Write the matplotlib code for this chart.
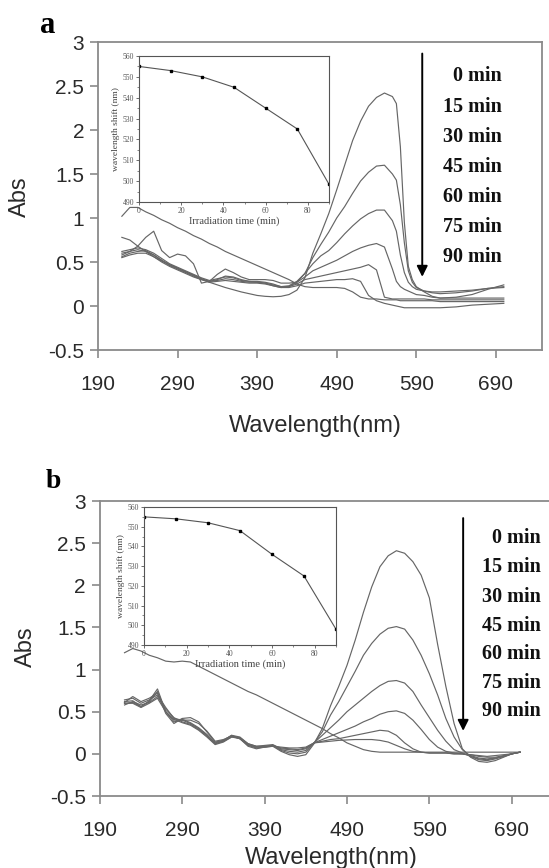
import matplotlib
matplotlib.use("Agg")
import matplotlib.pyplot as plt
import numpy as np

# ---------------- data ----------------
wl_a = [220, 230, 240, 250, 260, 270, 280, 290, 300, 310, 320, 330, 340, 350, 360, 370,
        380, 390, 400, 410, 420, 430, 440, 450, 460, 470, 480, 490, 500, 510, 520, 530,
        540, 550, 560, 565, 570, 575, 580, 585, 590, 600, 610, 620, 640, 660, 680, 700]

a_0min = [0.78, 0.75, 0.68, 0.62, 0.56, 0.51, 0.47, 0.43, 0.39, 0.35, 0.31, 0.27, 0.24, 0.21, 0.185, 0.16,
          0.14, 0.12, 0.11, 0.105, 0.11, 0.13, 0.18, 0.32, 0.60, 0.82, 1.05, 1.32, 1.60, 1.88, 2.10, 2.27,
          2.37, 2.42, 2.38, 2.30, 1.81, 0.95, 0.45, 0.30, 0.22, 0.16, 0.11, 0.09, 0.10, 0.13, 0.19, 0.24]
a_15min = [0.62, 0.64, 0.66, 0.64, 0.60, 0.54, 0.48, 0.44, 0.40, 0.36, 0.32, 0.29, 0.31, 0.33, 0.32, 0.29,
           0.28, 0.28, 0.27, 0.25, 0.22, 0.23, 0.28, 0.37, 0.55, 0.70, 0.84, 1.00, 1.13, 1.28, 1.42, 1.52,
           1.59, 1.60, 1.50, 1.43, 1.15, 0.72, 0.40, 0.27, 0.21, 0.17, 0.15, 0.14, 0.15, 0.17, 0.20, 0.22]
a_30min = [0.60, 0.62, 0.64, 0.62, 0.58, 0.52, 0.46, 0.42, 0.38, 0.34, 0.30, 0.28, 0.30, 0.34, 0.33, 0.30,
           0.28, 0.27, 0.26, 0.23, 0.21, 0.22, 0.27, 0.37, 0.48, 0.57, 0.63, 0.72, 0.82, 0.91, 0.99, 1.05,
           1.09, 1.09, 0.97, 0.85, 0.58, 0.38, 0.27, 0.22, 0.19, 0.17, 0.16, 0.16, 0.17, 0.18, 0.20, 0.21]
a_45min = [0.58, 0.62, 0.68, 0.78, 0.85, 0.63, 0.55, 0.59, 0.57, 0.48, 0.26, 0.28, 0.36, 0.42, 0.38, 0.33,
           0.30, 0.30, 0.30, 0.29, 0.26, 0.26, 0.27, 0.33, 0.40, 0.44, 0.48, 0.52, 0.57, 0.62, 0.66, 0.69,
           0.71, 0.67, 0.42, 0.28, 0.22, 0.19, 0.17, 0.15, 0.13, 0.12, 0.10, 0.09, 0.09, 0.09, 0.09, 0.09]
a_60min = [0.56, 0.60, 0.62, 0.63, 0.58, 0.52, 0.47, 0.43, 0.39, 0.35, 0.31, 0.28, 0.29, 0.31, 0.30, 0.28,
           0.27, 0.27, 0.26, 0.24, 0.22, 0.22, 0.25, 0.30, 0.32, 0.34, 0.36, 0.38, 0.40, 0.42, 0.44, 0.47,
           0.41, 0.10, 0.08, 0.08, 0.08, 0.08, 0.08, 0.08, 0.08, 0.08, 0.07, 0.07, 0.07, 0.07, 0.07, 0.07]
a_75min = [0.55, 0.58, 0.60, 0.60, 0.56, 0.50, 0.45, 0.41, 0.37, 0.33, 0.30, 0.27, 0.28, 0.29, 0.28, 0.27,
           0.26, 0.26, 0.25, 0.23, 0.21, 0.21, 0.23, 0.26, 0.27, 0.28, 0.29, 0.30, 0.30, 0.31, 0.28, 0.12,
           0.06, 0.03, 0.01, 0.0, -0.01, -0.02, -0.02, -0.02, -0.02, -0.02, -0.02, -0.02, -0.01, 0.01, 0.02, 0.03]
a_90min = [1.02, 1.12, 1.12, 1.07, 1.03, 0.98, 0.94, 0.89, 0.85, 0.80, 0.76, 0.71, 0.67, 0.62, 0.58, 0.54,
           0.50, 0.46, 0.42, 0.38, 0.34, 0.30, 0.25, 0.22, 0.21, 0.21, 0.21, 0.21, 0.20, 0.16, 0.10, 0.08,
           0.08, 0.07, 0.07, 0.07, 0.06, 0.06, 0.06, 0.06, 0.06, 0.06, 0.06, 0.05, 0.05, 0.05, 0.05, 0.05]

wl_b = [220, 230, 240, 250, 260, 270, 280, 290, 300, 310, 320, 330, 340, 350, 360, 370, 380,
        390, 400, 410, 420, 430, 440, 450, 460, 470, 480, 490, 500, 510, 520, 530, 540, 550,
        560, 570, 580, 590, 600, 610, 620, 630, 640, 650, 660, 670, 680, 690, 700]

b_0min = [0.60, 0.61, 0.56, 0.62, 0.74, 0.50, 0.38, 0.40, 0.36, 0.30, 0.22, 0.12, 0.15, 0.21, 0.18, 0.09, 0.06,
          0.08, 0.09, 0.03, -0.01, -0.03, -0.01, 0.12, 0.30, 0.57, 0.80, 1.05, 1.35, 1.68, 1.98, 2.22, 2.35, 2.41,
          2.38, 2.28, 2.12, 1.85, 1.30, 0.80, 0.36, 0.06, -0.04, -0.09, -0.10, -0.08, -0.04, 0.0, 0.02]
b_15min = [0.62, 0.63, 0.56, 0.63, 0.77, 0.50, 0.40, 0.41, 0.37, 0.31, 0.23, 0.13, 0.16, 0.22, 0.18, 0.10, 0.07,
           0.08, 0.10, 0.04, 0.01, 0.0, 0.02, 0.13, 0.26, 0.46, 0.62, 0.80, 0.98, 1.17, 1.31, 1.42, 1.49, 1.51,
           1.48, 1.35, 1.17, 0.95, 0.70, 0.42, 0.20, 0.05, -0.03, -0.07, -0.08, -0.06, -0.03, 0.0, 0.02]
b_30min = [0.64, 0.66, 0.60, 0.64, 0.70, 0.55, 0.42, 0.40, 0.40, 0.36, 0.27, 0.15, 0.17, 0.21, 0.19, 0.11, 0.08,
           0.09, 0.10, 0.05, 0.03, 0.02, 0.04, 0.13, 0.22, 0.31, 0.40, 0.50, 0.58, 0.66, 0.74, 0.81, 0.86, 0.87,
           0.84, 0.74, 0.58, 0.43, 0.28, 0.15, 0.05, 0.01, -0.03, -0.06, -0.07, -0.05, -0.03, 0.0, 0.02]
b_45min = [0.61, 0.68, 0.62, 0.66, 0.72, 0.48, 0.36, 0.42, 0.43, 0.38, 0.26, 0.14, 0.16, 0.22, 0.20, 0.12, 0.09,
           0.10, 0.11, 0.06, 0.05, 0.04, 0.06, 0.13, 0.17, 0.21, 0.25, 0.29, 0.33, 0.38, 0.42, 0.47, 0.50, 0.51,
           0.48, 0.40, 0.29, 0.17, 0.08, 0.03, 0.01, 0.0, -0.02, -0.05, -0.06, -0.05, -0.03, 0.0, 0.02]
b_60min = [0.58, 0.62, 0.58, 0.61, 0.68, 0.53, 0.43, 0.38, 0.35, 0.29, 0.21, 0.12, 0.15, 0.20, 0.19, 0.12, 0.09,
           0.09, 0.10, 0.07, 0.06, 0.05, 0.07, 0.13, 0.15, 0.17, 0.18, 0.20, 0.22, 0.24, 0.26, 0.28, 0.27, 0.22,
           0.13, 0.06, 0.02, 0.01, 0.01, 0.01, 0.0, 0.0, -0.01, -0.03, -0.04, -0.04, -0.02, 0.0, 0.02]
b_75min = [0.60, 0.60, 0.55, 0.60, 0.66, 0.50, 0.41, 0.37, 0.34, 0.28, 0.20, 0.11, 0.14, 0.20, 0.18, 0.11, 0.08,
           0.08, 0.09, 0.08, 0.07, 0.07, 0.08, 0.13, 0.14, 0.15, 0.16, 0.165, 0.17, 0.17, 0.17, 0.16, 0.14, 0.10,
           0.06, 0.03, 0.02, 0.01, 0.01, 0.01, 0.0, 0.0, -0.01, -0.02, -0.03, -0.02, -0.01, 0.0, 0.02]
b_90min = [1.20, 1.25, 1.22, 1.17, 1.14, 1.10, 1.09, 1.10, 1.09, 1.04, 0.99, 0.94, 0.89, 0.84, 0.79, 0.74, 0.70,
           0.65, 0.60, 0.55, 0.50, 0.45, 0.40, 0.35, 0.30, 0.24, 0.19, 0.13, 0.09, 0.05, 0.03, 0.02, 0.02, 0.02,
           0.02, 0.02, 0.02, 0.02, 0.02, 0.02, 0.02, 0.02, 0.02, 0.02, 0.02, 0.02, 0.02, 0.02, 0.02]

time_labels = ["0 min", "15 min", "30 min", "45 min", "60 min", "75 min", "90 min"]
inset_time = [0, 15, 30, 45, 60, 75, 90]
inset_shift_a = [555, 553, 550, 545, 535, 525, 498.5]
inset_shift_b = [555, 554, 552, 548, 536, 525, 498]

x_ticks = [190, 290, 390, 490, 590, 690]
y_ticks = [-0.5, 0, 0.5, 1, 1.5, 2, 2.5, 3]
y_ticklabels = ["-0.5", "0", "0.5", "1", "1.5", "2", "2.5", "3"]

# ---------------- figure ----------------
W, H = 549, 868
fig = plt.figure(figsize=(W / 100, H / 100), dpi=100)
fig.patch.set_facecolor("white")

SANS = "Liberation Sans"
SERIF = "Liberation Serif"
SPINE = "#8a8a8a"
CURVE = "#666666"


def fx(x):
    return x / W


def fy(y):
    return 1 - y / H


def style_main(ax, xlim_right):
    ax.set_xlim(190, xlim_right)
    ax.set_ylim(-0.5, 3)
    ax.set_xticks(x_ticks)
    ax.set_yticks(y_ticks)
    ax.set_yticklabels(y_ticklabels)
    for s in ax.spines.values():
        s.set_color(SPINE)
        s.set_linewidth(1.3)
    ax.tick_params(axis="both", direction="out", length=6, width=1.2, color=SPINE,
                   labelsize=15, labelcolor="#2a2a2a")
    ax.tick_params(axis="x", pad=12)
    ax.tick_params(axis="y", pad=4)
    for lab in ax.get_xticklabels() + ax.get_yticklabels():
        lab.set_fontfamily(SANS)


def style_inset(ax, t, shift):
    ax.plot(t, shift, color="#555555", lw=0.8, marker="s", ms=1.8,
            mfc="black", mec="black")
    ax.set_xlim(0, 90)
    ax.set_ylim(490, 560)
    ax.set_xticks([0, 20, 40, 60, 80])
    ax.set_xticks(np.arange(0, 91, 10), minor=True)
    ax.set_yticks(np.arange(490, 561, 10))
    ax.set_yticks(np.arange(490, 561, 5), minor=True)
    for s in ax.spines.values():
        s.set_color("#555555")
        s.set_linewidth(0.8)
    ax.tick_params(which="major", direction="out", length=2.5, width=0.6, color="#555555",
                   labelsize=5.5, labelcolor="#555555", pad=1)
    ax.tick_params(which="minor", direction="out", length=1.5, width=0.5, color="#555555")
    for lab in ax.get_xticklabels() + ax.get_yticklabels():
        lab.set_fontfamily(SERIF)
    ax.set_xlabel("Irradiation time (min)", fontsize=7.5, family=SERIF, color="#444444", labelpad=1)
    ax.set_ylabel("wavelength shift (nm)", fontsize=6.8, family=SERIF, color="#444444", labelpad=2)


# ---------- panel a ----------
axa = fig.add_axes([fx(98), fy(350), fx(444), 308 / H])
for ys in [a_0min, a_15min, a_30min, a_45min, a_60min, a_75min, a_90min]:
    axa.plot(wl_a, ys, color=CURVE, lw=0.85)
style_main(axa, 748)
axa.annotate("", xy=(597.5, 0.30), xytext=(597.5, 2.90),
             arrowprops=dict(arrowstyle="-|>", color="black", lw=1.4, mutation_scale=16))

insa = fig.add_axes([fx(139), fy(202), fx(190), 146 / H])
style_inset(insa, inset_time, inset_shift_a)

ya = [76, 107, 137, 167, 197, 227, 257]
for lab, y in zip(time_labels, ya):
    fig.text(fx(502), fy(y), lab, ha="right", va="center", family=SERIF,
             fontweight="bold", fontsize=14.5, color="#111111")

fig.text(fx(48), fy(33), "a", ha="center", va="baseline", family=SERIF,
         fontweight="bold", fontsize=22)
fig.text(fx(20), fy(197), "Abs", rotation=90, ha="center", va="center",
         family=SANS, fontsize=17, color="#2a2a2a")
fig.text(fx(315), fy(426), "Wavelength(nm)", ha="center", va="center",
         family=SANS, fontsize=17, color="#2a2a2a")

# ---------- panel b ----------
axb = fig.add_axes([fx(99.8), fy(796), fx(461.4), 295 / H])
for ys in [b_0min, b_15min, b_30min, b_45min, b_60min, b_75min, b_90min]:
    axb.plot(wl_b, ys, color=CURVE, lw=0.85)
style_main(axb, 750)
axb.annotate("", xy=(631, 0.24), xytext=(631, 2.83),
             arrowprops=dict(arrowstyle="-|>", color="black", lw=1.4, mutation_scale=16))

insb = fig.add_axes([fx(144), fy(645), fx(192), 138 / H])
style_inset(insb, inset_time, inset_shift_b)

yb = [538, 567, 597, 626, 654, 683, 711]
for lab, y in zip(time_labels, yb):
    fig.text(fx(541), fy(y), lab, ha="right", va="center", family=SERIF,
             fontweight="bold", fontsize=14.5, color="#111111")

fig.text(fx(53), fy(488), "b", ha="center", va="baseline", family=SERIF,
         fontweight="bold", fontsize=20)
fig.text(fx(26), fy(647), "Abs", rotation=90, ha="center", va="center",
         family=SANS, fontsize=17, color="#2a2a2a")
fig.text(fx(331), fy(858), "Wavelength(nm)", ha="center", va="center",
         family=SANS, fontsize=17, color="#2a2a2a")

fig.savefig("out.png", dpi=100, facecolor="white")
